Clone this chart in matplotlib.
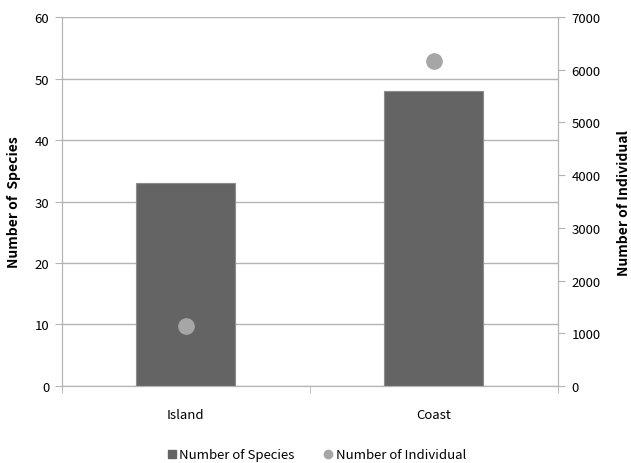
import matplotlib
matplotlib.use('Agg')
import matplotlib.pyplot as plt
import numpy as np
from matplotlib.lines import Line2D

plt.rcParams['font.family'] = ['Noto Sans CJK KR', 'DejaVu Sans']

# species counts (left axis) and individual counts (right axis) per site
sites = ['Island', 'Coast']
species = [33, 48]
individuals = [1130, 6170]

grid_col = '#B4B4B4'
bar_col = '#646464'
dot_col = '#A6A6A6'

fig = plt.figure(figsize=(6.31, 4.64), dpi=100)
ax = fig.add_axes([0.098, 0.166, 0.786, 0.795])
ax2 = ax.twinx()

x = np.arange(len(sites))
ax.bar(x, species, width=0.4, color=bar_col, edgecolor='#8C8C8C', linewidth=0.8, zorder=3)
ax.set_xlim(-0.5, 1.5)
ax.set_ylim(0, 60)
ax.set_yticks(range(0, 61, 10))
ax.yaxis.grid(True, color=grid_col, linewidth=1.0, zorder=0)
ax.set_axisbelow(True)

ax.set_xticks(x)
ax.set_xticklabels(sites)
ax.set_xticks([-0.5, 0.5, 1.5], minor=True)
ax.tick_params(axis='x', which='major', length=0, pad=16, labelsize=9.5)
ax.tick_params(axis='x', which='minor', length=5, color=grid_col, direction='out')
ax.tick_params(axis='y', length=5, color=grid_col, labelsize=9.5, pad=4)

ax2.plot(x, individuals, 'o', color=dot_col, markersize=11, zorder=4)
ax2.set_ylim(0, 7000)
ax2.set_yticks(range(0, 7001, 1000))
ax2.tick_params(axis='y', length=5, color=grid_col, labelsize=9.5, pad=5)

for a in (ax, ax2):
    a.spines['top'].set_visible(False)
    for s in ('left', 'right', 'bottom'):
        a.spines[s].set_color(grid_col)

ax.set_ylabel('Number of  Species', fontweight='bold', fontsize=10, labelpad=10)
ax2.set_ylabel('Number of Individual', fontweight='bold', fontsize=10, labelpad=12)

handles = [
    Line2D([], [], marker='s', linestyle='none', color=bar_col, markersize=6),
    Line2D([], [], marker='o', linestyle='none', color=dot_col, markersize=6),
]
fig.legend(handles, ['Number of Species', 'Number of Individual'],
           loc='center', bbox_to_anchor=(0.5, 0.018), ncol=2, frameon=False,
           fontsize=9.5, handletextpad=0.1, columnspacing=2.0, handlelength=1.0)

fig.savefig('out.png', dpi=100)
